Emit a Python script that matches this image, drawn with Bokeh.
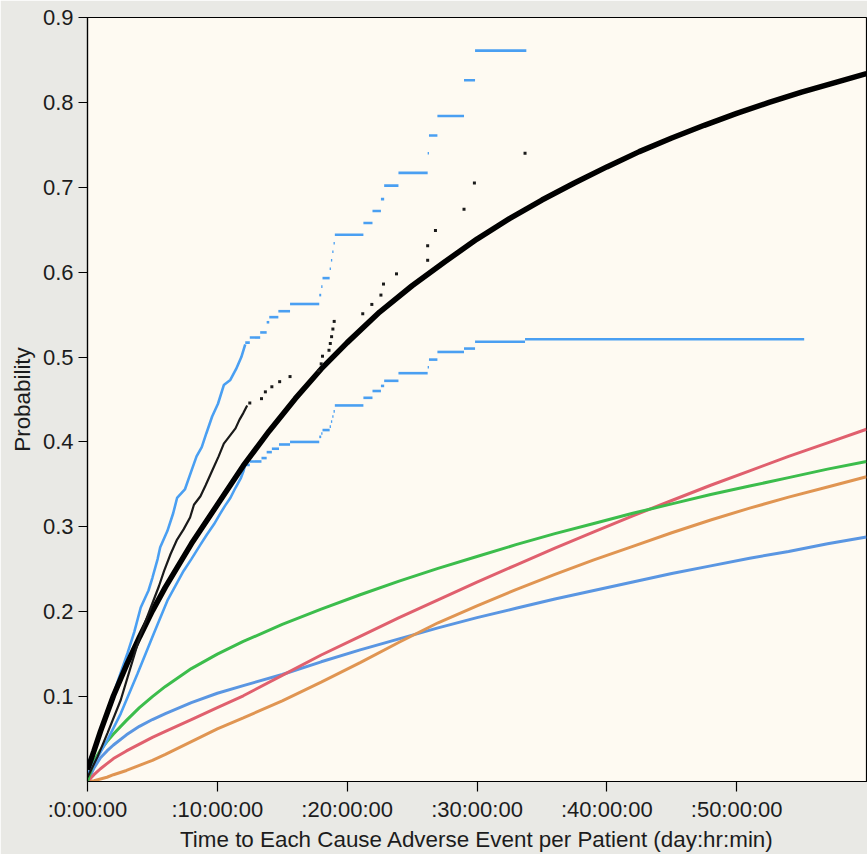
from bokeh.plotting import figure
from bokeh.models import FixedTicker, Range1d, ColumnDataSource
from bokeh.embed import file_html
from bokeh.resources import INLINE

# ---------------- data ----------------
x_ticks = [0, 10, 20, 30, 40, 50]
x_tick_labels = [":0:00:00", ":10:00:00", ":20:00:00", ":30:00:00", ":40:00:00", ":50:00:00"]
y_ticks = [0.1, 0.2, 0.3, 0.4, 0.5, 0.6, 0.7, 0.8, 0.9]
y_tick_labels = ["0.1", "0.2", "0.3", "0.4", "0.5", "0.6", "0.7", "0.8", "0.9"]

# overall fitted distribution (thick black)
fit_t = [0, 0.5, 1, 2, 3, 4, 5, 6, 8, 10, 12, 14, 16, 18, 20, 22.5, 25, 27.5, 30,
         32.5, 35, 37.5, 40, 42.5, 45, 47.5, 50, 52.5, 55, 57.5, 60]
fit_F = [0.014, 0.036, 0.059, 0.101, 0.137, 0.170, 0.201, 0.229, 0.280, 0.326, 0.372,
         0.413, 0.451, 0.486, 0.517, 0.553, 0.584, 0.612, 0.639, 0.663, 0.685, 0.705,
         0.724, 0.742, 0.758, 0.773, 0.787, 0.800, 0.812, 0.823, 0.834]

# per-cause curves
cause_t = [0, 0.5, 1, 1.5, 2, 3, 4, 5, 6, 8, 10, 12, 15, 18, 21, 24, 27, 30, 33, 36, 39,
           42, 45, 48, 51, 54, 57, 60]
cause_red = [0, 0.008, 0.015, 0.021, 0.027, 0.036, 0.044, 0.052, 0.059, 0.073, 0.087, 0.101,
             0.125, 0.149, 0.171, 0.193, 0.214, 0.235, 0.255, 0.275, 0.294, 0.313, 0.331,
             0.349, 0.366, 0.383, 0.399, 0.415]
cause_green = [0, 0.024, 0.037, 0.047, 0.056, 0.072, 0.087, 0.100, 0.112, 0.133, 0.150, 0.165,
               0.185, 0.203, 0.220, 0.236, 0.251, 0.265, 0.279, 0.292, 0.304, 0.316, 0.327,
               0.338, 0.348, 0.358, 0.368, 0.377]
cause_blue = [0, 0.016, 0.028, 0.036, 0.043, 0.055, 0.065, 0.073, 0.080, 0.093, 0.104, 0.113,
              0.126, 0.141, 0.155, 0.168, 0.181, 0.193, 0.204, 0.215, 0.225, 0.235, 0.245,
              0.254, 0.263, 0.271, 0.280, 0.288]
cause_orange = [0, 0.001, 0.003, 0.005, 0.008, 0.013, 0.019, 0.025, 0.032, 0.047, 0.062, 0.075,
                0.095, 0.117, 0.140, 0.164, 0.187, 0.207, 0.226, 0.244, 0.261, 0.277, 0.293,
                0.308, 0.322, 0.335, 0.347, 0.359]

# nonparametric estimate (black dots)
km_dense_t = [0, 0.77, 1.54, 2.56, 3.33, 4.1, 5.0, 5.5, 5.9, 6.4, 6.9, 7.4, 7.9, 8.2,
              8.7, 9.1, 9.6, 10.1, 10.5, 10.9, 11.4, 11.7, 12.0, 12.3]
km_dense_F = [0.005, 0.029, 0.057, 0.096, 0.135, 0.174, 0.210, 0.230, 0.248, 0.268, 0.285,
              0.297, 0.311, 0.326, 0.336, 0.349, 0.366, 0.383, 0.398, 0.406, 0.416, 0.426,
              0.434, 0.443]
km_dot_t = [12.5, 13.4, 13.7, 14.2, 14.8, 15.6, 17.8, 18.0, 18.1, 18.6, 18.7, 18.8, 18.9, 19.0,
            21.2, 21.9, 22.6, 22.8, 23.8, 26.2, 26.2, 26.8, 29.0, 29.8, 33.7]
km_dot_F = [0.446, 0.451, 0.459, 0.465, 0.471, 0.477, 0.484, 0.492, 0.501, 0.508, 0.516, 0.524,
            0.533, 0.542, 0.551, 0.562, 0.573, 0.586, 0.598, 0.614, 0.631, 0.649, 0.674, 0.705, 0.740]

# upper confidence band
upper_dense_t = [0, 0.5, 1.15, 1.8, 2.4, 3.1, 3.6, 4.1, 4.7, 5.0, 5.4, 5.6, 6.15, 6.6, 6.9, 7.5,
                 8.05, 8.4, 8.8, 9.15, 9.6, 10.05, 10.5, 11.0, 11.45, 11.85, 12.15]
upper_dense_F = [0.020, 0.037, 0.066, 0.094, 0.121, 0.152, 0.176, 0.205, 0.225, 0.240, 0.262,
                 0.276, 0.295, 0.316, 0.334, 0.344, 0.368, 0.383, 0.394, 0.410, 0.430, 0.445,
                 0.467, 0.473, 0.486, 0.500, 0.515]
upper_step_t0 = [12.15, 12.5, 13.3, 13.8, 14.0, 14.7, 15.6, 17.85, 18.0, 18.1, 18.65, 18.75,
                 18.85, 18.95, 19.05, 21.25, 21.95, 22.6, 22.85, 23.95, 26.2, 26.3, 26.95, 29.0, 29.85]
upper_step_t1 = [12.5, 13.3, 13.8, 14.0, 14.7, 15.6, 17.85, 18.0, 18.1, 18.65, 18.75, 18.85,
                 18.95, 19.05, 21.25, 21.95, 22.6, 22.85, 23.95, 26.2, 26.3, 26.95, 29.0, 29.85, 33.8]
upper_step_F = [0.517, 0.523, 0.529, 0.541, 0.547, 0.554, 0.5625, 0.573, 0.583, 0.593, 0.604,
                0.614, 0.624, 0.634, 0.644, 0.658, 0.672, 0.686, 0.702, 0.717, 0.740, 0.761,
                0.784, 0.826, 0.861]

# lower confidence band
lower_dense_t = [0, 0.5, 1.54, 2.56, 3.85, 5.1, 6.15, 7.4, 8.0, 8.7, 9.2, 9.74, 10.2, 10.6,
                 11.0, 11.4, 11.8, 12.0, 12.15]
lower_dense_F = [0.008, 0.021, 0.049, 0.080, 0.127, 0.174, 0.213, 0.248, 0.262, 0.279, 0.291,
                 0.303, 0.315, 0.325, 0.334, 0.346, 0.357, 0.365, 0.373]
lower_step_t0 = [12.15, 12.5, 13.4, 13.8, 14.2, 14.75, 15.6, 17.85, 18.0, 18.1, 18.65, 18.75,
                 18.85, 18.95, 19.05, 21.25, 21.95, 22.6, 22.85, 23.95, 26.2, 26.3, 26.95, 29.0,
                 29.85, 33.7]
lower_step_t1 = [12.5, 13.4, 13.8, 14.2, 14.75, 15.6, 17.85, 18.0, 18.1, 18.65, 18.75, 18.85,
                 18.95, 19.05, 21.25, 21.95, 22.6, 22.85, 23.95, 26.2, 26.3, 26.95, 29.0, 29.85,
                 33.7, 55.2]
lower_step_F = [0.373, 0.377, 0.381, 0.388, 0.392, 0.397, 0.400, 0.406, 0.410, 0.414, 0.418,
                0.424, 0.430, 0.436, 0.443, 0.452, 0.460, 0.466, 0.472, 0.481, 0.488, 0.497,
                0.506, 0.510, 0.518, 0.521]

# ---------------- figure ----------------
FONT = "Liberation Sans"
TEXT = "#1c1c1c"
BAND = "#4a9ff2"

p = figure(width=867, height=854, x_range=Range1d(0, 60), y_range=Range1d(0, 0.9),
           output_backend="svg", toolbar_location=None,
           min_border_left=87, min_border_right=1, min_border_top=17, min_border_bottom=70)
p.background_fill_color = "#fefaf2"
p.border_fill_color = "#e9e9e5"
p.outline_line_color = "black"
p.outline_line_width = 1.2
p.grid.visible = False

p.xaxis.ticker = FixedTicker(ticks=x_ticks)
p.xaxis.major_label_overrides = {t: s for t, s in zip(x_ticks, x_tick_labels)}
p.yaxis.ticker = FixedTicker(ticks=y_ticks)
p.yaxis.major_label_overrides = {t: s for t, s in zip(y_ticks, y_tick_labels)}

for ax in (p.xaxis[0], p.yaxis[0]):
    ax.axis_line_color = "black"
    ax.axis_line_width = 1.2
    ax.major_tick_line_color = "black"
    ax.major_tick_line_width = 1.2
    ax.major_tick_in = 0
    ax.major_tick_out = 10
    ax.minor_tick_line_color = None
    ax.major_label_text_font = FONT
    ax.major_label_text_font_size = "22px"
    ax.major_label_text_color = TEXT
    ax.major_label_standoff = 5
    ax.axis_label_text_font = FONT
    ax.axis_label_text_font_style = "normal"
    ax.axis_label_text_color = TEXT
    ax.axis_label_text_font_size = "22.4px"

p.xaxis.axis_label = "Time to Each Cause Adverse Event per Patient (day:hr:min)"
p.yaxis.axis_label = "Probability"
p.xaxis.axis_label_standoff = 2
p.yaxis.axis_label_standoff = 5
p.yaxis.major_tick_out = 9

# per-cause curves
p.line(cause_t, cause_blue, line_color="#5a96e2", line_width=3)
p.line(cause_t, cause_orange, line_color="#e09552", line_width=3)
p.line(cause_t, cause_red, line_color="#e0606e", line_width=3)
p.line(cause_t, cause_green, line_color="#3cbd4c", line_width=3)

# confidence bands
p.line(upper_dense_t, upper_dense_F, line_color=BAND, line_width=2.6)
p.line(lower_dense_t, lower_dense_F, line_color=BAND, line_width=2.6)
up = ColumnDataSource(dict(x0=upper_step_t0, x1=upper_step_t1, y=upper_step_F))
lo = ColumnDataSource(dict(x0=lower_step_t0, x1=lower_step_t1, y=lower_step_F))
p.segment(x0="x0", x1="x1", y0="y", y1="y", source=up, line_color=BAND, line_width=2.6)
p.segment(x0="x0", x1="x1", y0="y", y1="y", source=lo, line_color=BAND, line_width=2.6)

# fitted overall curve
p.line(fit_t, fit_F, line_color="black", line_width=5.5)

# nonparametric estimate
p.line(km_dense_t, km_dense_F, line_color="#1a1a1a", line_width=2.2)
p.scatter(km_dot_t, km_dot_F, marker="square", size=3, fill_color="#1a1a1a", line_color=None)

open("out.html", "w").write(file_html(p, INLINE))
